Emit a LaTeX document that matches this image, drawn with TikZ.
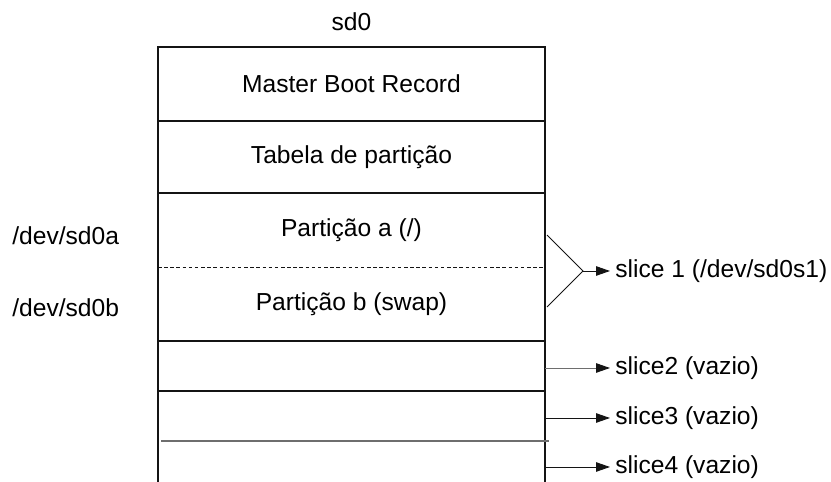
\documentclass[tikz,border=0pt]{standalone}
\usepackage{fontspec}
\setmainfont{Liberation Sans}
\usetikzlibrary{arrows.meta, positioning, calc}
\definecolor{sdline}{RGB}{20, 20, 20}
\definecolor{sdgray}{RGB}{110, 110, 110}

\begin{document}
\begin{tikzpicture}[
  cellbox/.style={
    rectangle, draw=sdline, line width=0.6pt, outer sep=0pt,
    minimum width=7.74cm, minimum height=#1,
    inner sep=0pt, font=\fontsize{14}{17}\selectfont
  },
  cellbox/.default=1.48cm,
  celltext/.style={
    rectangle, minimum width=7.74cm, minimum height=#1,
    outer sep=0pt, inner sep=0pt, font=\fontsize{14}{17}\selectfont
  },
  celltext/.default=1.48cm,
  boxline/.style={draw=sdline, line width=0.6pt},
  devlabel/.style={
    anchor=west, inner xsep=0.1cm, font=\fontsize{14}{17}\selectfont
  },
  slicelabel/.style={
    anchor=west, inner xsep=0.1cm, font=\fontsize{14}{17}\selectfont
  },
  slicearrow/.style={
    draw=sdline, line width=0.55pt,
    -{Triangle[length=0.28cm, width=0.19cm, color=sdline, fill=sdline]}
  },
  bracket/.style={draw=sdline, line width=0.45pt},
  sepline/.style={draw=sdline, line width=0.45pt, dash pattern=on 2pt off 1.5pt},
]

\useasboundingbox (0, 0) rectangle (16.62, 9.64);

%% ================================================================
%% DISK sd0
%% ================================================================

\node[font=\fontsize{14}{17}\selectfont] (title) at (7.03, 9.20) {sd0};

% Boot area
\node[cellbox] (mbr) at (7.03, 7.96) {Master Boot Record};
\node[cellbox=1.44cm, below=0pt of mbr] (tab) {Tabela de partição};

% Slice 1 with two partitions
\node[celltext, below=0pt of tab] (pa) {Partição a (/)};
\node[celltext, below=0pt of pa]  (pb) {Partição b (swap)};
\draw[boxline] (pa.north west) rectangle (pb.south east);
\draw[sepline] (pa.south west) -- (pa.south east);

% Empty slices
\node[cellbox=1.0cm, below=0pt of pb]     (s2row) {};
\node[celltext=1.0cm, below=0pt of s2row] (s3row) {};
\coordinate (s4bl) at (s3row.south west |- 0, 0);
\coordinate (s4br) at (s3row.south east |- 0, 0);
\draw[boxline] (s3row.north west) -- (s4bl);
\draw[boxline] (s3row.north east) -- (s4br);
\draw[draw=sdgray, line width=0.8pt]
  ([xshift=0.06cm]s3row.south west) -- ([xshift=0.08cm]s3row.south east);

%% ================================================================
%% DEVICE NAMES (left)
%% ================================================================

\node[devlabel] (deva) at (0.14, 4.92) {/dev/sd0a};
\node[devlabel] (devb) at (0.14, 3.48) {/dev/sd0b};

%% ================================================================
%% SLICES (right)
%% ================================================================

\node[slicelabel] (slice1) at (12.2, 4.22) {slice 1 (/dev/sd0s1)};
\node[slicelabel] (slice2) at (12.2, 2.28) {slice2 (vazio)};
\node[slicelabel] (slice3) at (12.2, 1.28) {slice3 (vazio)};
\node[slicelabel] (slice4) at (12.2, 0.30) {slice4 (vazio)};

% Bracket joining partitions a and b
\coordinate (brtop)  at (10.94, 4.94);
\coordinate (brtip)  at (11.66, 4.22);
\coordinate (brbot)  at (10.94, 3.50);
\draw[bracket] (brtop) -- (brtip) -- (brbot);
\draw[slicearrow] (brtip) -- (slice1.west);

\draw[slicearrow, draw=sdgray] (s2row.east |- slice2) -- (slice2.west);
\draw[slicearrow] (s3row.east |- slice3) -- (slice3.west);
\draw[slicearrow] (s4br |- slice4) -- (slice4.west);

\end{tikzpicture}
\end{document}
